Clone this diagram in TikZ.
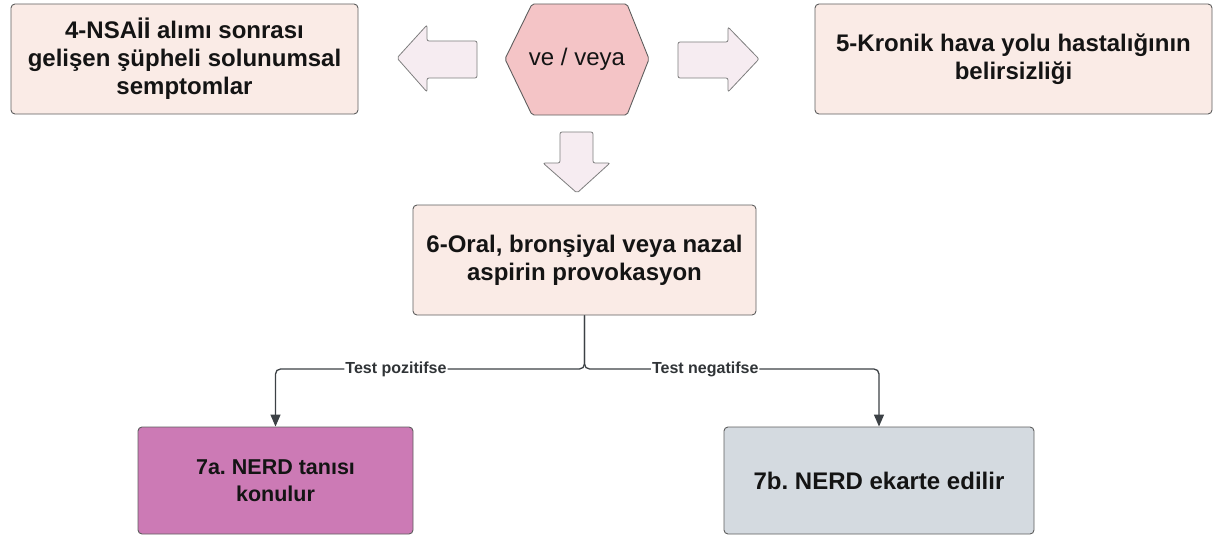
\documentclass[tikz,border=0pt]{standalone}
\usepackage{fontspec}
\setmainfont{Liberation Sans}
\usetikzlibrary{arrows.meta}
\frenchspacing

\definecolor{boxfill}{HTML}{FAEBE6}
\definecolor{boxline}{HTML}{5E5E5E}
\definecolor{hexfill}{HTML}{F4C4C6}
\definecolor{arrfill}{HTML}{F6ECF1}
\definecolor{posfill}{HTML}{CC7AB5}
\definecolor{negfill}{HTML}{D4DAE0}
\definecolor{connline}{HTML}{3C4145}
\definecolor{ink}{HTML}{141414}

\tikzset{
  stepbox/.style={draw=boxline, line width=0.9pt, rounded corners=4pt,
    fill=boxfill, align=center, text=ink, inner sep=0pt,
    font=\bfseries\fontsize{24}{28}\selectfont},
  blockarrow/.style={draw=boxline!80, line width=0.8pt, fill=arrfill,
    rounded corners=2pt},
  conn/.style={draw=connline, line width=1.3pt, rounded corners=5pt,
    -{Triangle[length=12pt,width=10pt]}},
  lbl/.style={fill=white, inner sep=1pt, text=connline!80!black,
    font=\bfseries\fontsize{16}{17}\selectfont}
}

\begin{document}
\begin{tikzpicture}[x=1pt,y=-1pt]
  \useasboundingbox (0,0) rectangle (1219,535);

  % top row: the two conditions
  \node[stepbox, minimum width=347pt, minimum height=110pt] (n4) at (184.5,59)
    {4-NSAİİ alımı sonrası\\gelişen şüpheli solunumsal\\semptomlar};
  \node[stepbox, minimum width=397pt, minimum height=110pt] (n5) at (1013.5,59)
    {5-Kronik hava yolu hastalığının\\belirsizliği};

  % hexagon joining them
  \draw[draw=boxline, line width=0.9pt, fill=hexfill, rounded corners=2pt]
    (505,59) -- (532,4) -- (627,4) -- (649,59) -- (627,115) -- (532,115) -- cycle;
  \node[text=ink, font=\fontsize{24}{28}\selectfont] (hex) at (577,59) {ve / veya};

  % block arrows around the hexagon
  \draw[blockarrow] (477,41) -- (427,41) -- (427,25) -- (397,58) -- (427,92)
    -- (427,78) -- (477,78) -- cycle;
  \draw[blockarrow] (678,42) -- (728,42) -- (728,27) -- (759,59) -- (728,92)
    -- (728,78) -- (678,78) -- cycle;
  \draw[blockarrow] (560,132) -- (593,132) -- (593,163) -- (610,163) -- (577,193)
    -- (543,163) -- (560,163) -- cycle;

  % provocation test
  \node[stepbox, minimum width=343pt, minimum height=110pt] (n6) at (584.5,260)
    {6-Oral, bronşiyal veya nazal\\aspirin provokasyon};

  % outcomes
  \node[stepbox, fill=posfill, minimum width=275pt, minimum height=107pt,
    font=\bfseries\fontsize{21.5}{27}\selectfont] (n7a) at (275.5,480.5)
    {7a. NERD tanısı\\konulur};
  \node[stepbox, fill=negfill, minimum width=310pt, minimum height=107pt] (n7b) at (879,480.5)
    {7b. NERD ekarte edilir};

  % branch connectors
  \coordinate (jl) at (n7a.north |- 0,369);
  \coordinate (jr) at (n7b.north |- 0,369);
  \draw[conn] (n6.south) |- node[lbl, pos=0.805] {Test pozitifse} (jl) -- (n7a.north);
  \draw[conn] (n6.south) |- node[lbl, pos=0.705] {Test negatifse} (jr) -- (n7b.north);
\end{tikzpicture}
\end{document}
